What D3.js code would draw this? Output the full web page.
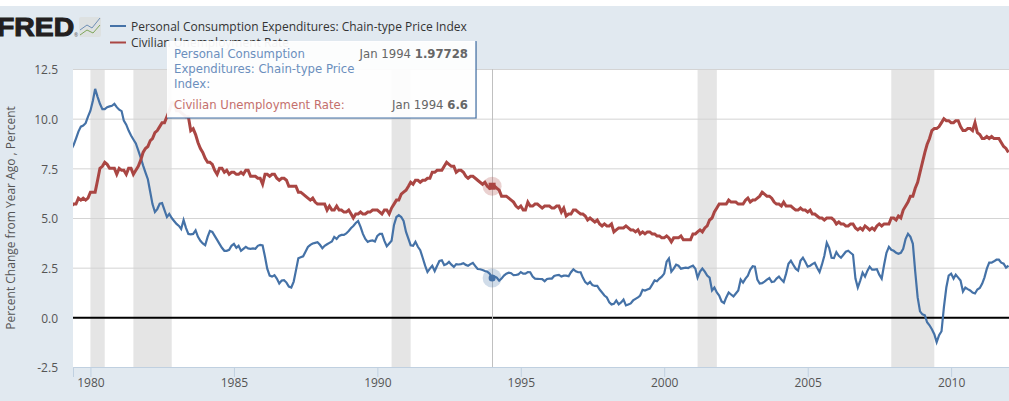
<!DOCTYPE html>
<html>
<head>
<meta charset="utf-8">
<script src="https://cdn.jsdelivr.net/npm/d3@7"></script>
<style>
  html, body { margin: 0; padding: 0; background: #fff; overflow: hidden; }
  text { font-family: "Open Sans", sans-serif; fill: #555; }
  .tip text { font-family: "DejaVu Sans", sans-serif; font-size: 11.7px; }
</style>
</head>
<body>
<div id="viz"></div>
<script>
const width = 1009;
const height = 401;
const marginLeft = 73;
const marginTop = 69;
const plotBottom = 367;

const pceName = 'Personal Consumption Expenditures: Chain-type Price Index';
const unrateName = 'Civilian Unemployment Rate';
const yLabel = 'Percent Change from Year Ago , Percent';

const yTicks = [-2.5, 0, 2.5, 5, 7.5, 10, 12.5];
const xTicks = [1980, 1985, 1990, 1995, 2000, 2005, 2010];

// recessions, [first month, last month]
const recessions = [
  ['1980-01-01', '1980-07-01'],
  ['1981-07-01', '1982-11-01'],
  ['1990-07-01', '1991-03-01'],
  ['2001-03-01', '2001-11-01'],
  ['2007-12-01', '2009-06-01'],
];

// monthly values, May 1979 to Jan 2012
const pce = [
  8.45, 8.67, 9.0, 9.35, 9.6, 9.65, 9.77, 10.1,
  10.4, 10.9, 11.5, 11.1, 10.75, 10.48, 10.48, 10.58, 10.62, 10.65, 10.75, 10.58,
  10.45, 10.38, 9.9, 9.7, 9.4, 9.15, 8.95, 8.75, 8.4, 8.05, 7.65, 7.3,
  6.95, 6.3, 5.7, 5.3, 5.45, 5.72, 5.75, 5.4, 5.05, 5.2, 5.0, 4.85,
  4.7, 4.6, 4.45, 4.9, 4.5, 4.2, 4.18, 4.2, 4.38, 4.05, 3.85, 3.72,
  3.63, 4.05, 4.35, 4.3, 4.1, 3.9, 3.7, 3.5, 3.35, 3.35, 3.4, 3.6,
  3.7, 3.5, 3.6, 3.35, 3.45, 3.55, 3.47, 3.45, 3.47, 3.45, 3.6, 3.65,
  3.62, 3.04, 2.45, 2.1, 2.05, 2.12, 1.95, 1.7, 1.85, 1.87, 1.75, 1.55,
  1.5, 1.8, 2.35, 2.97, 3.02, 3.07, 3.3, 3.54, 3.65, 3.72, 3.75, 3.78,
  3.65, 3.48, 3.6, 3.68, 3.75, 3.82, 4.05, 3.95, 4.1, 4.15, 4.15, 4.22,
  4.35, 4.5, 4.6, 4.75, 4.85, 4.55, 4.2, 3.95, 3.8, 3.85, 3.87, 3.82,
  4.1, 4.2, 4.2, 3.85, 3.58, 3.72, 3.85, 4.65, 5.05, 5.14, 5.05, 4.85,
  4.3, 3.95, 3.63, 3.6, 3.8, 3.55, 3.38, 3.0, 2.6, 2.28, 2.45, 2.59,
  2.33, 2.6, 2.84, 2.87, 2.63, 2.68, 2.79, 2.65, 2.54, 2.68, 2.66, 2.68,
  2.72, 2.64, 2.6, 2.68, 2.74, 2.58, 2.43, 2.42, 2.38, 2.33, 2.3, 2.2,
  1.97728, 2.05, 2.0, 1.85, 1.95, 2.1, 2.2, 2.25, 2.22, 2.12, 2.13, 2.16,
  2.28, 2.2, 2.2, 2.28, 2.27, 2.05, 1.95, 1.94, 1.93, 1.92, 1.82, 1.93,
  1.95, 1.95, 2.08, 2.12, 2.14, 2.05, 2.1, 2.1, 2.07, 2.27, 2.42, 2.32,
  2.27, 2.27, 2.0, 1.77, 1.67, 1.78, 1.62, 1.58, 1.58, 1.4, 1.25, 1.1,
  1.0, 0.75, 0.65, 0.68, 0.85, 0.65, 0.75, 0.89, 0.6, 0.65, 0.7, 0.85,
  0.93, 1.0, 1.1, 1.38, 1.35, 1.4, 1.45, 1.65, 1.86, 1.82, 1.95, 2.05,
  2.2, 2.8, 2.96, 2.3, 2.45, 2.65, 2.6, 2.45, 2.48, 2.5, 2.48, 2.55,
  2.6, 2.45, 2.0, 2.3, 2.46, 2.3, 2.1, 2.0, 1.35, 1.5, 1.25, 1.1,
  0.8, 0.72, 1.0, 1.25, 1.15, 1.05, 1.2, 1.35, 1.9, 1.75, 1.95, 2.1,
  2.4, 2.57, 2.55, 1.9, 1.7, 1.72, 1.8, 1.9, 1.98, 1.78, 1.8, 1.95,
  2.05, 1.9, 1.78, 2.2, 2.7, 2.85, 2.65, 2.45, 2.35, 2.85, 3.0, 2.8,
  2.55, 2.6, 2.68, 2.75, 2.5, 2.28, 2.65, 3.1, 3.75, 3.5, 3.0, 2.98,
  3.28, 3.1, 3.0, 3.15, 3.3, 3.35, 3.25, 3.15, 1.95, 1.5, 1.85, 2.25,
  2.05, 2.35, 2.55, 2.4, 2.4, 2.42, 2.15, 1.95, 2.65, 3.25, 3.55, 3.4,
  3.35, 3.25, 3.2, 3.25, 3.45, 3.95, 4.2, 4.05, 3.7, 2.3, 1.0, 0.3,
  0.15, 0.1, -0.25, -0.4, -0.6, -0.85, -1.25, -0.9, -0.7, 0.5, 1.5, 2.1,
  2.2, 1.95, 2.15, 2.0, 1.85, 1.3, 1.5, 1.42, 1.35, 1.25, 1.2, 1.4,
  1.48, 1.7, 2.0, 2.45, 2.75, 2.75, 2.82, 2.9, 2.9, 2.75, 2.7, 2.5,
  2.6,
];

const unrate = [
  5.6, 5.7, 5.7, 6.0, 5.9, 6.0, 5.9, 6.0,
  6.3, 6.3, 6.3, 6.9, 7.5, 7.6, 7.8, 7.7, 7.5, 7.5, 7.5, 7.2,
  7.5, 7.4, 7.4, 7.2, 7.5, 7.5, 7.2, 7.4, 7.6, 7.9, 8.3, 8.5,
  8.6, 8.9, 9.0, 9.3, 9.4, 9.6, 9.8, 9.8, 10.1, 10.4, 10.8, 10.8,
  10.4, 10.4, 10.3, 10.2, 10.1, 10.1, 9.4, 9.5, 9.2, 8.8, 8.5, 8.3,
  8.0, 7.8, 7.8, 7.7, 7.4, 7.2, 7.5, 7.5, 7.3, 7.4, 7.2, 7.3,
  7.3, 7.2, 7.2, 7.3, 7.2, 7.4, 7.4, 7.1, 7.1, 7.1, 7.0, 7.0,
  6.7, 7.2, 7.2, 7.1, 7.2, 7.2, 7.0, 6.9, 7.0, 7.0, 6.9, 6.6,
  6.6, 6.6, 6.6, 6.3, 6.3, 6.2, 6.1, 6.0, 5.9, 6.0, 5.8, 5.7,
  5.7, 5.7, 5.7, 5.4, 5.6, 5.4, 5.4, 5.6, 5.4, 5.4, 5.3, 5.3,
  5.4, 5.2, 5.0, 5.2, 5.2, 5.3, 5.2, 5.2, 5.3, 5.3, 5.4, 5.4,
  5.4, 5.3, 5.2, 5.4, 5.4, 5.2, 5.5, 5.7, 5.9, 5.9, 6.2, 6.3,
  6.4, 6.6, 6.8, 6.7, 6.9, 6.9, 6.8, 6.9, 6.9, 7.0, 7.0, 7.3,
  7.3, 7.4, 7.4, 7.4, 7.6, 7.8, 7.7, 7.6, 7.6, 7.3, 7.4, 7.4,
  7.3, 7.1, 7.0, 7.1, 7.1, 7.0, 6.9, 6.8, 6.7, 6.8, 6.6, 6.5,
  6.6, 6.6, 6.5, 6.4, 6.1, 6.1, 6.1, 6.0, 5.9, 5.8, 5.6, 5.5,
  5.6, 5.4, 5.4, 5.8, 5.6, 5.6, 5.7, 5.7, 5.6, 5.5, 5.6, 5.6,
  5.6, 5.5, 5.5, 5.6, 5.6, 5.3, 5.5, 5.1, 5.2, 5.2, 5.4, 5.4,
  5.3, 5.2, 5.2, 5.1, 4.9, 5.0, 4.9, 4.8, 4.9, 4.7, 4.6, 4.7,
  4.6, 4.6, 4.7, 4.3, 4.4, 4.5, 4.5, 4.5, 4.6, 4.5, 4.4, 4.4,
  4.3, 4.4, 4.2, 4.3, 4.2, 4.3, 4.3, 4.2, 4.2, 4.1, 4.1, 4.0,
  4.0, 4.1, 4.0, 3.8, 4.0, 4.0, 4.0, 4.1, 3.9, 3.9, 3.9, 3.9,
  4.2, 4.2, 4.3, 4.4, 4.3, 4.5, 4.6, 4.9, 5.0, 5.3, 5.5, 5.7,
  5.7, 5.7, 5.7, 5.9, 5.8, 5.8, 5.8, 5.7, 5.7, 5.7, 5.9, 6.0,
  5.8, 5.9, 5.9, 6.0, 6.1, 6.3, 6.2, 6.1, 6.1, 6.0, 5.8, 5.7,
  5.7, 5.6, 5.8, 5.6, 5.6, 5.6, 5.5, 5.4, 5.4, 5.5, 5.4, 5.4,
  5.3, 5.4, 5.2, 5.2, 5.1, 5.0, 5.0, 4.9, 5.0, 5.0, 5.0, 4.9,
  4.7, 4.8, 4.7, 4.7, 4.6, 4.6, 4.7, 4.7, 4.5, 4.4, 4.5, 4.4,
  4.6, 4.5, 4.4, 4.5, 4.4, 4.6, 4.7, 4.6, 4.7, 4.7, 4.7, 5.0,
  5.0, 4.9, 5.1, 5.0, 5.4, 5.6, 5.8, 6.1, 6.1, 6.5, 6.8, 7.3,
  7.8, 8.3, 8.7, 9.0, 9.4, 9.5, 9.5, 9.6, 9.8, 10.0, 9.9, 9.9,
  9.8, 9.8, 9.9, 9.9, 9.6, 9.4, 9.4, 9.5, 9.5, 9.4, 9.8, 9.3,
  9.2, 9.0, 9.0, 9.1, 9.0, 9.1, 9.0, 9.0, 9.0, 8.8, 8.6, 8.5,
  8.3,
];

const pceColor = '#4572a7';
const unrateColor = '#aa4643';

const months = d3.timeMonth.range(new Date(1979, 4, 1), new Date(2012, 1, 1));
const hoverDate = new Date(1994, 0, 1);

const xScale = d3
  .scaleTime()
  .domain([new Date(1979, 4, 24), new Date(2012, 0, 8)])
  .range([marginLeft, width]);

const yScale = d3.scaleLinear().domain([-2.5, 12.5]).range([plotBottom, marginTop]);

const svg = d3
  .select('#viz')
  .append('svg')
  .attr('width', width)
  .attr('height', height)
  .style('display', 'block');

// Backgrounds
svg.append('rect').attr('y', 6).attr('width', width).attr('height', height - 6).attr('fill', '#e1e9f0');
svg
  .append('rect')
  .attr('x', marginLeft)
  .attr('y', marginTop)
  .attr('width', width - marginLeft)
  .attr('height', plotBottom - marginTop)
  .attr('fill', '#fff');

svg
  .append('clipPath')
  .attr('id', 'plot')
  .append('rect')
  .attr('x', marginLeft)
  .attr('y', marginTop)
  .attr('width', width - marginLeft)
  .attr('height', plotBottom - marginTop);

// Recession bands
svg
  .append('g')
  .selectAll('rect')
  .data(recessions)
  .enter()
  .append('rect')
  .attr('x', (d) => xScale(new Date(d[0] + 'T00:00')))
  .attr('y', marginTop)
  .attr('width', (d) => xScale(new Date(d[1] + 'T00:00')) - xScale(new Date(d[0] + 'T00:00')))
  .attr('height', plotBottom - marginTop)
  .attr('fill', '#e5e5e5');

// Y axis with grid
const yAxis = svg
  .append('g')
  .attr('transform', `translate(${marginLeft},0)`)
  .call(
    d3
      .axisLeft(yScale)
      .tickValues(yTicks)
      .tickSize(0)
      .tickPadding(15)
      .tickFormat((d) => d.toFixed(1))
  );
yAxis.select('.domain').remove();
yAxis
  .selectAll('text')
  .attr('font-size', 12)
  .attr('dy', '0.4em');
yAxis
  .selectAll('.tick')
  .append('line')
  .attr('x2', width - marginLeft)
  .attr('stroke', (d) => (d === 0 ? '#000' : '#d4d4d4'))
  .attr('stroke-width', (d) => (d === 0 ? 2 : 1));

// X axis
const xAxis = svg
  .append('g')
  .attr('transform', `translate(0,${plotBottom})`)
  .call(
    d3
      .axisBottom(xScale)
      .tickValues(xTicks.map((y) => new Date(y, 0, 1)))
      .tickSize(10)
      .tickPadding(1.5)
      .tickFormat(d3.timeFormat('%Y'))
  );
xAxis.select('.domain').attr('stroke', '#c0d0e0');
xAxis.selectAll('line').attr('stroke', '#c0d0e0');
xAxis.selectAll('text').attr('font-size', 12);

svg
  .append('text')
  .attr('transform', 'translate(15,218) rotate(-90)')
  .attr('text-anchor', 'middle')
  .attr('font-size', 12)
  .text(yLabel);

// Crosshair
const hx = xScale(hoverDate);
svg
  .append('line')
  .attr('x1', Math.floor(hx) + 0.5)
  .attr('x2', Math.floor(hx) + 0.5)
  .attr('y1', marginTop)
  .attr('y2', plotBottom)
  .attr('stroke', '#c0c0c0');

// Lines
const line = d3
  .line()
  .x((d, i) => xScale(months[i]))
  .y((d) => yScale(d));

const lines = svg.append('g').attr('clip-path', 'url(#plot)');
lines.append('path').attr('d', line(pce)).attr('fill', 'none').attr('stroke', pceColor).attr('stroke-width', 2.2);
lines.append('path').attr('d', line(unrate)).attr('fill', 'none').attr('stroke', unrateColor).attr('stroke-width', 3);

// Hover markers
const hoverIndex = months.findIndex((m) => +m === +hoverDate);
const hy1 = yScale(pce[hoverIndex]);
const hy2 = yScale(unrate[hoverIndex]);
svg.append('circle').attr('cx', hx).attr('cy', hy1).attr('r', 9.5).attr('fill', pceColor).attr('opacity', 0.25);
svg.append('circle').attr('cx', hx).attr('cy', hy1).attr('r', 3.5).attr('fill', pceColor);
svg.append('circle').attr('cx', hx).attr('cy', hy2).attr('r', 9.5).attr('fill', unrateColor).attr('opacity', 0.25);
svg.append('rect').attr('x', hx - 3.5).attr('y', hy2 - 3.5).attr('width', 7).attr('height', 7).attr('fill', unrateColor);

// Logo
svg
  .append('text')
  .attr('transform', 'translate(-3,36) scale(1.09,1)')
  .attr('font-weight', 700)
  .attr('font-size', 26)
  .attr('stroke', '#231f20')
  .attr('stroke-width', 1.1)
  .style('font-family', '"Liberation Sans", sans-serif')
  .style('fill', '#231f20')
  .text('FRED');
svg.append('text').attr('x', 74).attr('y', 37).attr('font-size', 5).style('fill', '#555').text('®');
svg.append('rect').attr('x', 79).attr('y', 17).attr('width', 22).attr('height', 20).attr('rx', 2).attr('fill', '#dde1e1');
svg.append('path').attr('d', 'M80 30L87 25L92 28L100 18').attr('fill', 'none').attr('stroke', '#6f8fb5');
svg.append('path').attr('d', 'M80 35L87 30L93 33L100 25').attr('fill', 'none').attr('stroke', '#7fa65a');

// Legend
const legend = svg.append('g');
[
  [pceName, pceColor, 26],
  [unrateName, unrateColor, 42.5],
].forEach(([name, color, y]) => {
  legend.append('line').attr('x1', 110).attr('x2', 126).attr('y1', y).attr('y2', y).attr('stroke', color).attr('stroke-width', 2);
  legend.append('text').attr('x', 131).attr('y', y + 4.5).attr('font-size', 12).style('fill', '#333').text(name);
});

// Tooltip
const tip = svg.append('g').attr('class', 'tip');
tip
  .append('rect')
  .attr('x', 168)
  .attr('y', 42)
  .attr('width', 309)
  .attr('height', 77)
  .attr('fill', '#000')
  .attr('opacity', 0.1);
tip
  .append('rect')
  .attr('x', 167)
  .attr('y', 41)
  .attr('width', 309)
  .attr('height', 77)
  .attr('fill', '#fff')
  .attr('fill-opacity', 0.94);
tip.append('path').attr('d', 'M476 41V118H167').attr('fill', 'none').attr('stroke', pceColor).attr('stroke-width', 1.2);

['Personal Consumption', 'Expenditures: Chain-type Price', 'Index:'].forEach((t, i) => {
  tip.append('text').attr('x', 174).attr('y', 58 + i * 15).style('fill', '#6b8fbd').text(t);
});
tip.append('text').attr('x', 174).attr('y', 109).style('fill', '#c46f6c').text('Civilian Unemployment Rate:');

function tipValue(y, date, value) {
  const t = tip.append('text').attr('x', 468).attr('y', y).attr('text-anchor', 'end').style('fill', '#666');
  t.append('tspan').text(date + ' ');
  t.append('tspan').attr('font-weight', 700).text(value);
}
tipValue(58, 'Jan 1994', pce[hoverIndex]);
tipValue(109, 'Jan 1994', unrate[hoverIndex]);
</script>
</body>
</html>
